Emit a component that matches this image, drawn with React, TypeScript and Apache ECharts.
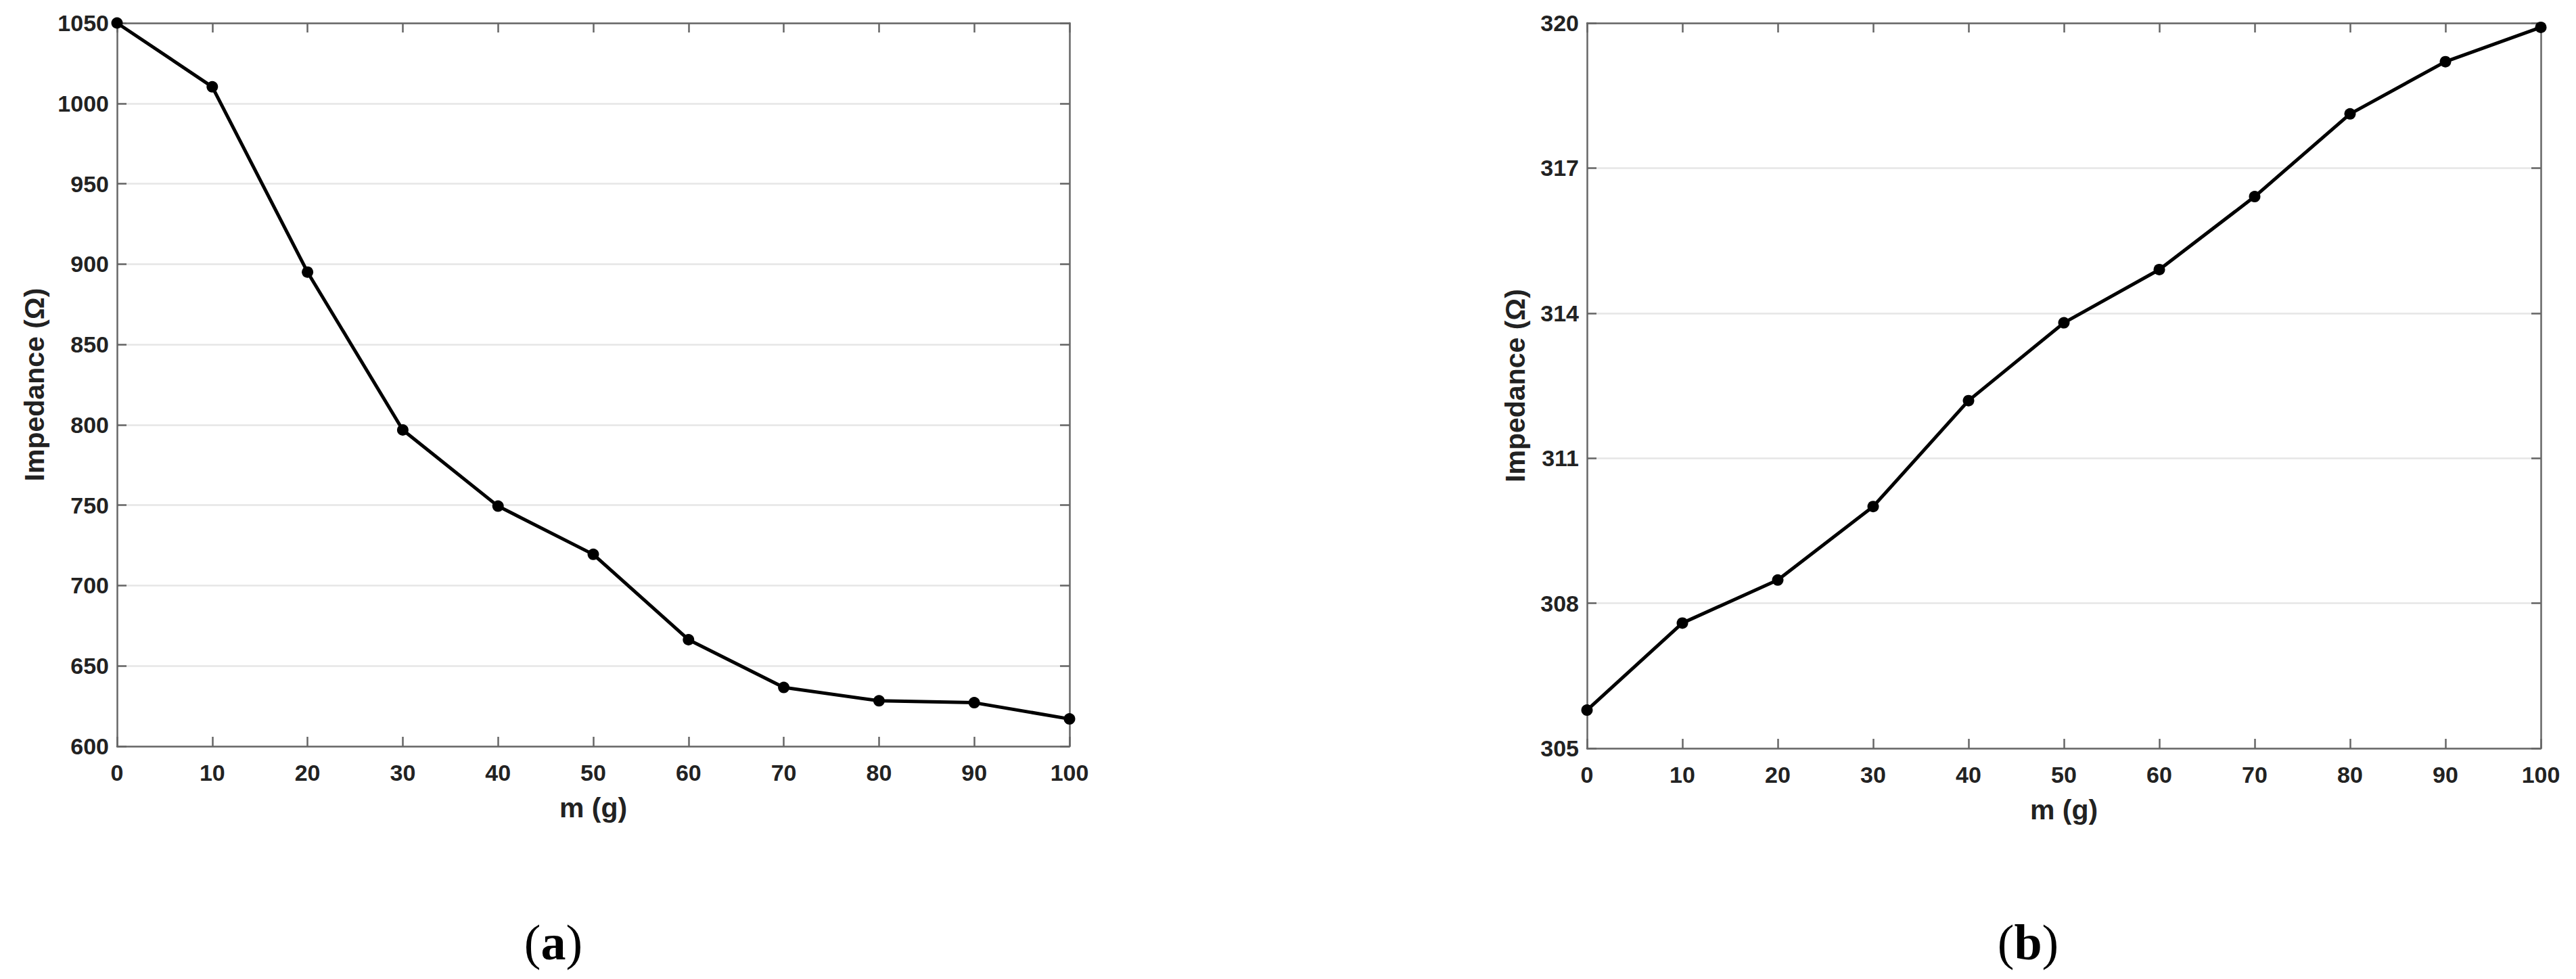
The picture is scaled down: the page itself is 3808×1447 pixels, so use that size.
import React, { useEffect, useRef } from "react";
import * as echarts from "echarts";

// ---- data ----
const massG = [0, 10, 20, 30, 40, 50, 60, 70, 80, 90, 100];
const impedanceA = [1050, 1010.3, 895, 796.8, 749.4, 719.4, 666.3, 636.6, 628.3, 627.1, 617];
const impedanceB = [305.79, 307.59, 308.48, 310.0, 312.19, 313.8, 314.9, 316.41, 318.12, 319.2, 319.91];
const xTickValues = [0, 10, 20, 30, 40, 50, 60, 70, 80, 90, 100];
const yTicksA = [600, 650, 700, 750, 800, 850, 900, 950, 1000, 1050];
const yTicksB = [305, 308, 311, 314, 317, 320];
const captions = ["a", "b"];
const xTitle = "m (g)";
const yTitle = "Impedance (\u03A9)";

const FONT = "'Liberation Sans', Arial, Helvetica, sans-serif";
const AX = "#666666";
const GRID = "#e6e6e6";
const TXT = "#222222";

export default function App() {
  const ref = useRef<HTMLDivElement>(null);

  useEffect(() => {
    if (!ref.current) return;
    const chart = echarts.init(ref.current, null, { renderer: "svg" });

    const fmt = (v: number) => String(v);
    const axisLine = { show: true, onZero: false, lineStyle: { color: AX, width: 2.5 } };
    const axisTick = { show: true, inside: true, length: 14, lineStyle: { color: AX, width: 2.5 } };
    const labelStyle = { fontFamily: FONT, fontWeight: "bold", fontSize: 34, color: TXT, formatter: fmt };
    const nameStyle = { fontFamily: FONT, fontWeight: "bold", fontSize: 41, color: TXT };

    const xMin = xTickValues[0];
    const xMax = xTickValues[xTickValues.length - 1];
    const xInt = xTickValues[1] - xTickValues[0];

    const makeX = (gridIndex: number, top: boolean) => ({
      type: "value",
      gridIndex,
      position: top ? "top" : "bottom",
      min: xMin,
      max: xMax,
      interval: xInt,
      axisLine,
      axisTick,
      splitLine: { show: false },
      axisLabel: top ? { show: false } : { ...labelStyle, margin: 22 },
      name: top ? "" : xTitle,
      nameLocation: "middle",
      nameGap: 70,
      nameTextStyle: nameStyle,
    });

    const yMinA = yTicksA[0];
    const yMaxA = yTicksA[yTicksA.length - 1];
    const yIntA = yTicksA[1] - yTicksA[0];

    const yA = (right: boolean) => ({
      type: "value",
      gridIndex: 0,
      position: right ? "right" : "left",
      min: yMinA,
      max: yMaxA,
      interval: yIntA,
      axisLine,
      axisTick,
      splitLine: right ? { show: false } : { show: true, lineStyle: { color: GRID, width: 2.5 } },
      axisLabel: right ? { show: false } : { ...labelStyle, margin: 12 },
      name: right ? "" : yTitle,
      nameLocation: "middle",
      nameGap: 102,
      nameTextStyle: nameStyle,
    });

    const yB = (right: boolean) => ({
      type: "value",
      gridIndex: 1,
      position: right ? "right" : "left",
      min: yTicksB[0],
      max: yTicksB[yTicksB.length - 1],
      axisLine,
      axisTick: { ...axisTick, customValues: yTicksB },
      splitLine: right ? { show: false } : { show: true, lineStyle: { color: GRID, width: 2.5 } },
      axisLabel: right
        ? { show: false, customValues: yTicksB }
        : { ...labelStyle, margin: 12, customValues: yTicksB },
      name: right ? "" : yTitle,
      nameLocation: "middle",
      nameGap: 86,
      nameTextStyle: nameStyle,
    });

    const lineSeries = (idx: number, values: number[]) => ({
      type: "line",
      xAxisIndex: idx * 2,
      yAxisIndex: idx * 2,
      data: massG.map((m, i) => [m, values[i]]),
      symbol: "circle",
      symbolSize: 17,
      clip: false,
      lineStyle: { color: "#000", width: 5 },
      itemStyle: { color: "#000" },
      z: 5,
    });

    const captionX = [818, 2998];

    chart.setOption({
      animation: false,
      backgroundColor: "#ffffff",
      grid: [
        { left: 173, top: 34, width: 1408, height: 1069, containLabel: false },
        { left: 2346, top: 34, width: 1410, height: 1072, containLabel: false },
      ],
      xAxis: [makeX(0, false), makeX(0, true), makeX(1, false), makeX(1, true)],
      yAxis: [yA(false), yA(true), yB(false), yB(true)],
      series: [lineSeries(0, impedanceA), lineSeries(1, impedanceB)],
      graphic: captions.map((c, i) => ({
        type: "text",
        x: captionX[i],
        y: 1393,
        style: {
          text: `{p|(}{b|${c}}{p|)}`,
          align: "center",
          verticalAlign: "middle",
          fill: "#000",
          rich: {
            p: { fontFamily: "'Liberation Serif', 'Times New Roman', serif", fontSize: 74, fill: "#000" },
            b: { fontFamily: "'Liberation Serif', 'Times New Roman', serif", fontSize: 74, fontWeight: "bold", fill: "#000" },
          },
        },
      })),
    });

    return () => {
      chart.dispose();
    };
  }, []);

  return (
    <div
      ref={ref}
      style={{ position: "absolute", left: 0, top: 0, width: 3808, height: 1447, background: "#fff" }}
    />
  );
}
